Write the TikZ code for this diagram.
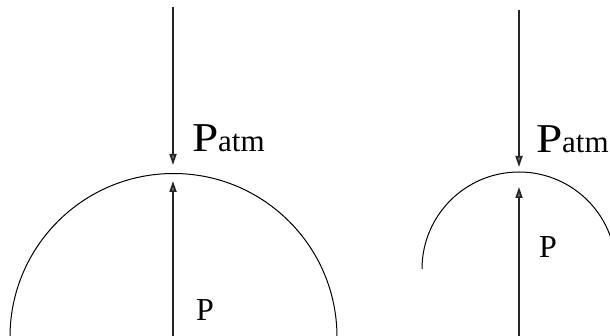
\documentclass[tikz,border=0pt]{standalone}
\usepackage{fontspec}
\setmainfont{Liberation Serif}
\usepackage{graphicx}
\usetikzlibrary{arrows.meta}
\begin{document}
\begin{tikzpicture}[x=1pt,y=-1pt,
  force/.style={line width=1.7pt,draw=black!85,
    -{Triangle[length=11pt,width=7pt,fill=black!55]}},
  surf/.style={line width=1pt,draw=black},
  lab/.style={anchor=base west,inner sep=0pt,outer sep=0pt,text=black}]
\useasboundingbox (0,0) rectangle (610,336);
\clip (0,0) rectangle (610,336);
% left figure
\coordinate (l1s) at (173,7);
\coordinate (l1e) at (173,165);
\coordinate (l2s) at (173,337);
\coordinate (l2e) at (173,181);
\draw[surf] (10,337) arc[start angle=180,end angle=0,x radius=163.5,y radius=-163.5];
\draw[force] (l1s) -- (l1e);
\draw[force] (l2s) -- (l2e);
\node[lab] (lpatm) at (192,152) {\fontsize{41}{41}\selectfont\scalebox{1.15}[1]{P}\fontsize{31}{31}\selectfont atm};
\node[lab] (lp) at (196,320) {\fontsize{32}{32}\selectfont P};
% right figure
\coordinate (r1s) at (519,10);
\coordinate (r1e) at (519,167);
\coordinate (r2s) at (519,337);
\coordinate (r2e) at (519,187);
\draw[surf] (422,269) arc[start angle=180,end angle=18,x radius=97,y radius=-97];
\draw[force] (r1s) -- (r1e);
\draw[force] (r2s) -- (r2e);
\node[lab] (rpatm) at (536,153) {\fontsize{41}{41}\selectfont\scalebox{1.15}[1]{P}\fontsize{31}{31}\selectfont atm};
\node[lab] (rp) at (539,258) {\fontsize{32}{32}\selectfont P};
\end{tikzpicture}
\end{document}
